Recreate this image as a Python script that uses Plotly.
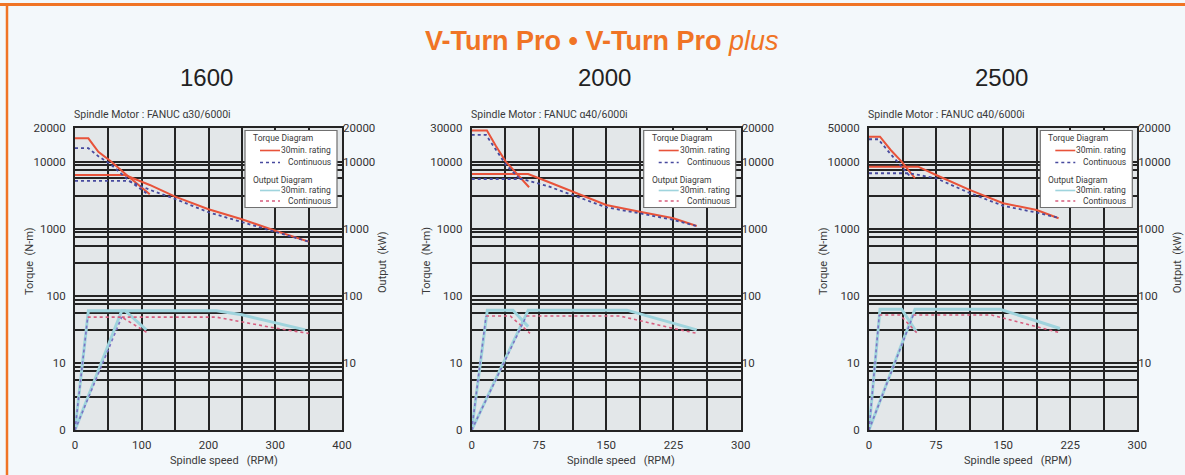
import plotly.graph_objects as go

W, H = 1185, 475

# ---------------- text / tick data ----------------
TITLE_BOLD = "V-Turn Pro • V-Turn Pro "
TITLE_ITALIC = "plus"
MODELS = ["1600", "2000", "2500"]
MOTORS = ["Spindle Motor : FANUC α30/6000i",
          "Spindle Motor : FANUC α40/6000i",
          "Spindle Motor : FANUC α40/6000i"]
LEFT_TOP_LABELS = ["20000", "30000", "50000"]
RIGHT_TOP_LABEL = "20000"
DECADE_VALUES = [1, 10, 100, 1000, 10000]
LEFT_DECADE_LABELS = ["0", "10", "100", "1000", "10000"]
RIGHT_DECADE_LABELS = ["", "10", "100", "1000", "10000"]
GRID_MANTISSA = [1, 3.1, 5.6, 7.5, 8.8]
X_MAX = [400, 300, 300]
X_LABEL_STEP = [100, 75, 75]

# ---------------- 1600 (α30/6000i) ----------------
T30_LO_RPM_1600 = [0, 20, 35, 54, 80, 112]
T30_LO_NM_1600 = [22200, 22200, 14000, 10000, 6000, 3250]
TC_LO_RPM_1600 = [0, 20, 35, 54, 80, 107]
TC_LO_NM_1600 = [15800, 15800, 12000, 9000, 5300, 3370]
T30_HI_RPM_1600 = [0, 75, 112, 150, 200, 250, 300, 350]
T30_HI_NM_1600 = [6300, 6300, 4480, 3000, 1946, 1381, 933, 640]
TC_HI_RPM_1600 = [0, 80, 112, 150, 200, 250, 300, 350]
TC_HI_NM_1600 = [5150, 5150, 3800, 2770, 1756, 1245, 905, 640]
P30_LO_RPM_1600 = [0, 20, 75, 107]
P30_LO_KW_1600 = [1, 60, 60, 31]
PC_LO_RPM_1600 = [0, 19, 70, 110]
PC_LO_KW_1600 = [1, 48, 48, 27.5]
P30_HI_RPM_1600 = [0, 70, 212, 250, 345]
P30_HI_KW_1600 = [1, 60, 60, 52, 31]
PC_HI_RPM_1600 = [0, 70, 212, 300, 350]
PC_HI_KW_1600 = [1, 48, 48, 33, 27.5]

# ---------------- 2000 (α40/6000i) ----------------
T30_LO_RPM_2000 = [0, 17, 27, 38, 64]
T30_LO_NM_2000 = [28900, 28900, 17000, 10000, 4140]
TC_LO_RPM_2000 = [0, 16, 27, 38, 55]
TC_LO_NM_2000 = [24900, 24900, 15000, 9000, 5300]
T30_HI_RPM_2000 = [0, 63, 85, 112.5, 150, 187.5, 225, 251]
T30_HI_NM_2000 = [6530, 6530, 5000, 3560, 2250, 1790, 1428, 1097]
TC_HI_RPM_2000 = [0, 56, 85, 112.5, 150, 187.5, 225, 250]
TC_HI_NM_2000 = [5500, 5500, 4300, 3180, 2080, 1690, 1350, 1100]
P30_LO_RPM_2000 = [0, 17.4, 46, 63]
P30_LO_KW_2000 = [1, 61, 61, 34.7]
PC_LO_RPM_2000 = [0, 16, 43, 65]
PC_LO_KW_2000 = [1, 50, 50, 27.6]
P30_HI_RPM_2000 = [0, 63, 173, 251]
P30_HI_KW_2000 = [1, 61, 61, 31]
PC_HI_RPM_2000 = [0, 61, 165, 225, 251]
PC_HI_KW_2000 = [1, 50, 50, 32.6, 27.6]

# ---------------- 2500 (α40/6000i) ----------------
T30_LO_RPM_2500 = [0, 12.3, 24, 36.5, 51.4]
T30_LO_NM_2500 = [23500, 23500, 15000, 10000, 5640]
TC_LO_RPM_2500 = [0, 10.4, 24, 36.5, 46]
TC_LO_NM_2500 = [21500, 21500, 13000, 8500, 6000]
T30_HI_RPM_2500 = [0, 55, 75, 112.5, 150, 187.5, 212]
T30_HI_NM_2500 = [8400, 8400, 6310, 3780, 2390, 1900, 1430]
TC_HI_RPM_2500 = [0, 45, 75, 112.5, 150, 187.5, 212]
TC_HI_NM_2500 = [6700, 6700, 5640, 3400, 2190, 1735, 1450]
P30_LO_RPM_2500 = [0, 12.3, 36.5, 53]
P30_LO_KW_2500 = [1, 63, 63, 29]
PC_LO_RPM_2500 = [0, 11.5, 34.7, 54]
PC_LO_KW_2500 = [1, 51.7, 51.7, 27.6]
P30_HI_RPM_2500 = [0, 51.4, 146.5, 213.5]
P30_HI_KW_2500 = [1, 63, 63, 32.6]
PC_HI_RPM_2500 = [0, 49.5, 137, 187.5, 213.5]
PC_HI_KW_2500 = [1, 51.7, 51.7, 34.7, 28.2]

CHARTS = [
    dict(t30=[(T30_LO_RPM_1600, T30_LO_NM_1600), (T30_HI_RPM_1600, T30_HI_NM_1600)],
         tc=[(TC_LO_RPM_1600, TC_LO_NM_1600), (TC_HI_RPM_1600, TC_HI_NM_1600)],
         p30=[(P30_LO_RPM_1600, P30_LO_KW_1600), (P30_HI_RPM_1600, P30_HI_KW_1600)],
         pc=[(PC_LO_RPM_1600, PC_LO_KW_1600), (PC_HI_RPM_1600, PC_HI_KW_1600)]),
    dict(t30=[(T30_LO_RPM_2000, T30_LO_NM_2000), (T30_HI_RPM_2000, T30_HI_NM_2000)],
         tc=[(TC_LO_RPM_2000, TC_LO_NM_2000), (TC_HI_RPM_2000, TC_HI_NM_2000)],
         p30=[(P30_LO_RPM_2000, P30_LO_KW_2000), (P30_HI_RPM_2000, P30_HI_KW_2000)],
         pc=[(PC_LO_RPM_2000, PC_LO_KW_2000), (PC_HI_RPM_2000, PC_HI_KW_2000)]),
    dict(t30=[(T30_LO_RPM_2500, T30_LO_NM_2500), (T30_HI_RPM_2500, T30_HI_NM_2500)],
         tc=[(TC_LO_RPM_2500, TC_LO_NM_2500), (TC_HI_RPM_2500, TC_HI_NM_2500)],
         p30=[(P30_LO_RPM_2500, P30_LO_KW_2500), (P30_HI_RPM_2500, P30_HI_KW_2500)],
         pc=[(PC_LO_RPM_2500, PC_LO_KW_2500), (PC_HI_RPM_2500, PC_HI_KW_2500)]),
]

# ---------------- styling ----------------
ORANGE = "#f07425"
INK = "#333333"
GRID = "#242424"
RED = "#e8533a"
BLUE = "#474a9e"
CYAN = "#9fd4dd"
PINK = "#d65d7e"
PURPLE = "#7c72c4"
FONT = "Roboto, 'Noto Sans', sans-serif"
TITLE_FONT = "'Liberation Sans', Arial, sans-serif"

TOP_VALUE = 10 ** 4.5
PLOT_X_PX = [(75, 342), (471.7, 740.7), (869, 1137.3)]
PLOT_TOP_PX, PLOT_BOT_PX = 128, 430


def px(x):
    return x / W


def py(y):
    return 1 - y / H


fig = go.Figure()
layout = dict(
    width=W, height=H, autosize=False,
    margin=dict(l=0, r=0, t=0, b=0, pad=0),
    paper_bgcolor="#f3f8fb", plot_bgcolor="#e3e7e9",
    showlegend=False, font=dict(family=FONT, color=INK, size=11),
)

grid_vals = sorted({round(m * d, 6) for d in DECADE_VALUES for m in GRID_MANTISSA if m * d < TOP_VALUE * 0.99})
grid_vals.append(TOP_VALUE * 0.998)

shapes, annotations = [], []

for i, ch in enumerate(CHARTS):
    xid = "x" if i == 0 else f"x{i + 1}"
    yl = "y" if i == 0 else f"y{2 * i + 1}"
    yr = f"y{2 * i + 2}"
    x0p, x1p = PLOT_X_PX[i]
    xdom = [px(x0p), px(x1p)]
    ydom = [py(PLOT_BOT_PX), py(PLOT_TOP_PX)]

    # left axis ticks/grids
    ltext = []
    for v in grid_vals:
        t = ""
        for d, lab in zip(DECADE_VALUES, LEFT_DECADE_LABELS):
            if abs(v - d) < 1e-6:
                t = lab
        if v > TOP_VALUE * 0.99:
            t = LEFT_TOP_LABELS[i]
        ltext.append(t)
    rvals = [d for d, lab in zip(DECADE_VALUES, RIGHT_DECADE_LABELS) if lab] + [TOP_VALUE * 0.998]
    rtext = [lab for lab in RIGHT_DECADE_LABELS if lab] + [RIGHT_TOP_LABEL]

    step = X_LABEL_STEP[i] / 2
    xvals = [k * step for k in range(int(round(X_MAX[i] / step)) + 1)]
    xtext = [str(int(v)) if k % 2 == 0 else "" for k, v in enumerate(xvals)]

    layout["xaxis" if i == 0 else f"xaxis{i + 1}"] = dict(
        domain=xdom, anchor=yl, range=[0, X_MAX[i]], tickvals=xvals, ticktext=xtext,
        showgrid=True, gridcolor=GRID, gridwidth=1.8, zeroline=False,
        showline=True, linecolor=GRID, linewidth=1.8, mirror=True,
        ticks="outside", ticklen=3, tickcolor="rgba(0,0,0,0)",
        tickfont=dict(size=11.5, color=INK), automargin=False, fixedrange=True)
    layout["yaxis" if i == 0 else f"yaxis{2 * i + 1}"] = dict(
        domain=ydom, anchor=xid, type="log", range=[0, 4.5],
        tickvals=grid_vals, ticktext=ltext,
        showgrid=True, gridcolor=GRID, gridwidth=1.7, zeroline=False,
        showline=True, linecolor=GRID, linewidth=1.8, mirror=True,
        ticks="outside", ticklen=5, tickcolor="rgba(0,0,0,0)",
        tickfont=dict(size=11.5, color=INK), automargin=False, fixedrange=True)
    layout[f"yaxis{2 * i + 2}"] = dict(
        domain=ydom, anchor=xid, overlaying=yl, side="right", type="log", range=[0, 4.5],
        tickvals=rvals, ticktext=rtext, showgrid=False, zeroline=False, showline=False,
        ticks="", tickfont=dict(size=11.5, color=INK), automargin=False, fixedrange=True)

    # output curves (right axis)
    for rpm, kw in ch["p30"]:
        fig.add_trace(go.Scatter(x=rpm, y=kw, xaxis=xid, yaxis=yr, mode="lines",
                                 line=dict(color=CYAN, width=3), hoverinfo="skip"))
    for rpm, kw in ch["pc"]:
        fig.add_trace(go.Scatter(x=rpm[1:], y=kw[1:], xaxis=xid, yaxis=yr, mode="lines",
                                 line=dict(color=PINK, width=1.6, dash="dot"), hoverinfo="skip"))
        fig.add_trace(go.Scatter(x=rpm[:2], y=kw[:2], xaxis=xid, yaxis=yr, mode="lines",
                                 line=dict(color=PURPLE, width=1.6, dash="dot"), hoverinfo="skip"))
    # torque curves (left axis)
    for rpm, nm in ch["t30"]:
        fig.add_trace(go.Scatter(x=rpm, y=nm, xaxis=xid, yaxis=yl, mode="lines",
                                 line=dict(color=RED, width=2), hoverinfo="skip"))
    for rpm, nm in ch["tc"]:
        fig.add_trace(go.Scatter(x=rpm, y=nm, xaxis=xid, yaxis=yl, mode="lines",
                                 line=dict(color=BLUE, width=1.8, dash="dot"), hoverinfo="skip"))

    # texts around the plot
    cx = (x0p + x1p) / 2
    annotations.append(dict(text=MODELS[i], x=px(cx - 2), y=py(77), xref="paper", yref="paper",
                            showarrow=False, font=dict(family=TITLE_FONT, size=24, color="#222"),
                            xanchor="center", yanchor="middle"))
    annotations.append(dict(text=MOTORS[i], x=px(x0p - 3), y=py(115), xref="paper", yref="paper",
                            showarrow=False, font=dict(size=10.5, color="#3a3a3a"),
                            xanchor="left", yanchor="middle"))
    annotations.append(dict(text="Spindle speed\u00a0\u00a0\u00a0(RPM)", x=px(cx + 15), y=py(460),
                            xref="paper", yref="paper", showarrow=False,
                            font=dict(size=11, color="#3a3a3a"), xanchor="center", yanchor="middle"))
    annotations.append(dict(text="Torque\u00a0\u00a0(N-m)", x=px(x0p - 46), y=py(261), xref="paper",
                            yref="paper", showarrow=False, textangle=-90,
                            font=dict(size=11, color="#3a3a3a"), xanchor="center", yanchor="middle"))
    if i != 1:
        annotations.append(dict(text="Output\u00a0\u00a0(kW)", x=px(x1p + 40), y=py(262), xref="paper",
                                yref="paper", showarrow=False, textangle=-90,
                                font=dict(size=11, color="#3a3a3a"), xanchor="center", yanchor="middle"))

    # legend box
    bl, bt = x1p - 97, 130.5
    bw, bh = 92, 77
    shapes.append(dict(type="rect", xref="paper", yref="paper", x0=px(bl), x1=px(bl + bw),
                       y0=py(bt + bh), y1=py(bt), fillcolor="white",
                       line=dict(color="#707070", width=1.2), layer="above"))
    rows = [("Torque Diagram", None, 7.5), ("30min. rating", (RED, "solid", 1.6), 20),
            ("Continuous", (BLUE, "dot", 1.4), 32), ("Output Diagram", None, 49),
            ("30min. rating", (CYAN, "solid", 1.6), 60), ("Continuous", (PINK, "dot", 1.4), 70.5)]
    for label, sty, dy in rows:
        if sty is None:
            annotations.append(dict(text=label, x=px(bl + 6), y=py(bt + dy), xref="paper", yref="paper",
                                    showarrow=False, font=dict(size=8.5, color="#3a3a3a"),
                                    xanchor="left", yanchor="middle"))
        else:
            col, dash, wd = sty
            shapes.append(dict(type="line", xref="paper", yref="paper", x0=px(bl + 15), x1=px(bl + 35),
                               y0=py(bt + dy), y1=py(bt + dy), line=dict(color=col, width=wd, dash=dash),
                               layer="above"))
            annotations.append(dict(text=label, x=px(bl + 88), y=py(bt + dy), xref="paper", yref="paper",
                                    showarrow=False, font=dict(size=8.5, color="#3a3a3a"),
                                    xanchor="right", yanchor="middle"))

# main title
annotations.append(dict(text=f"<b>{TITLE_BOLD}</b><i>{TITLE_ITALIC}</i>", x=px(602), y=py(41),
                        xref="paper", yref="paper", showarrow=False,
                        font=dict(family=TITLE_FONT, size=27, color=ORANGE),
                        xanchor="center", yanchor="middle"))

# orange frame
shapes.append(dict(type="line", xref="paper", yref="paper", x0=0, x1=1, y0=py(4.5), y1=py(4.5),
                   line=dict(color=ORANGE, width=3)))
shapes.append(dict(type="line", xref="paper", yref="paper", x0=px(7), x1=px(7), y0=0, y1=py(4),
                   line=dict(color=ORANGE, width=2.5)))

layout["shapes"] = shapes
layout["annotations"] = annotations
fig.update_layout(**layout)
fig.write_html("out.html", config={"displayModeBar": False},
               post_script="document.body.style.margin='0';document.body.style.overflow='hidden';")
